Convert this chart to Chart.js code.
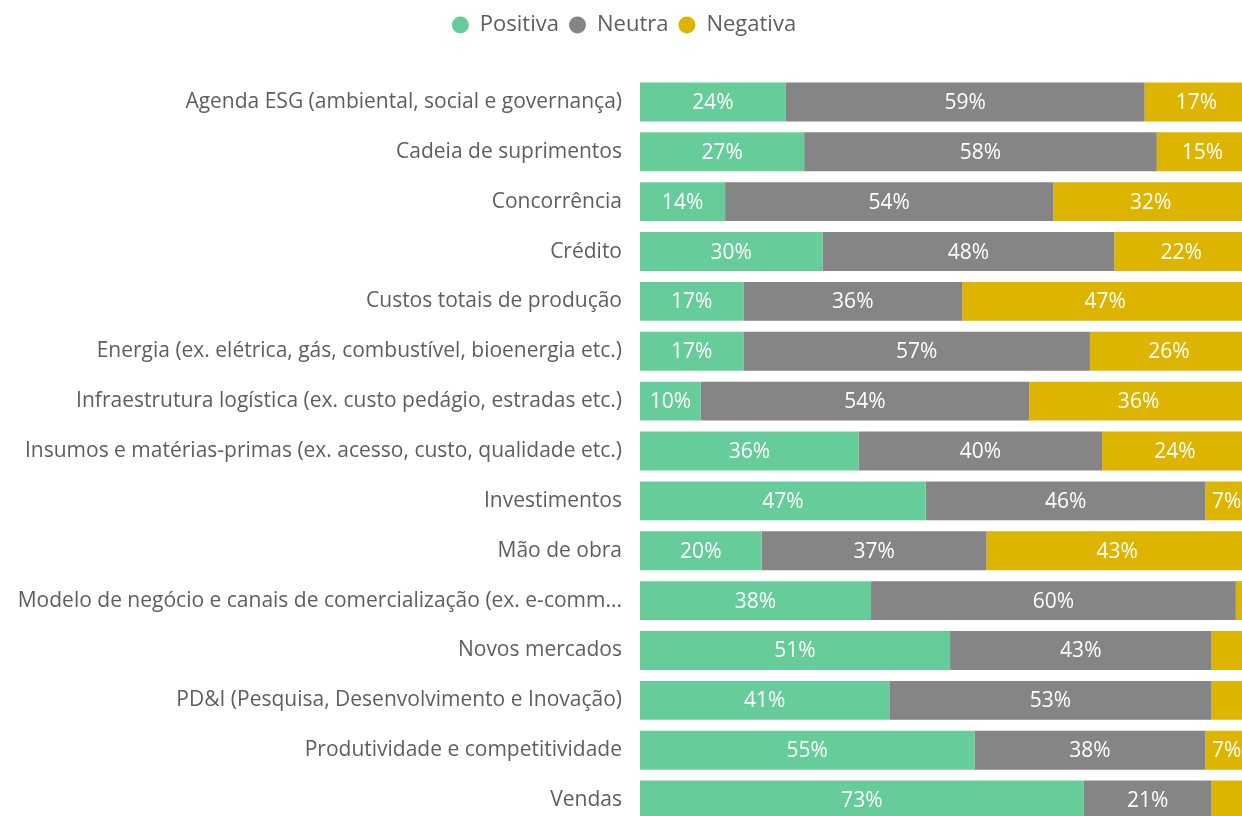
<!DOCTYPE html>
<html>
<head>
<meta charset="utf-8">
<script src="https://cdn.jsdelivr.net/npm/chart.js@4.4.1/dist/chart.umd.min.js"></script>
<style>
  html, body { margin: 0; padding: 0; background: #fff; overflow: hidden; }
  #chart { display: block; }
</style>
</head>
<body>
<canvas id="chart" width="1248" height="826"></canvas>
<script>
// categories and series (percent)
const categories = [
  'Agenda ESG (ambiental, social e governança)',
  'Cadeia de suprimentos',
  'Concorrência',
  'Crédito',
  'Custos totais de produção',
  'Energia (ex. elétrica, gás, combustível, bioenergia etc.)',
  'Infraestrutura logística (ex. custo pedágio, estradas etc.)',
  'Insumos e matérias-primas (ex. acesso, custo, qualidade etc.)',
  'Investimentos',
  'Mão de obra',
  'Modelo de negócio e canais de comercialização (ex. e-comm...',
  'Novos mercados',
  'PD&I (Pesquisa, Desenvolvimento e Inovação)',
  'Produtividade e competitividade',
  'Vendas'
];
const positiva = [24, 27, 14, 30, 17, 17, 10, 36, 47, 20, 38, 51, 41, 55, 73];
const neutra   = [59, 58, 54, 48, 36, 57, 54, 40, 46, 37, 60, 43, 53, 38, 21];
const negativa = [17, 15, 32, 22, 47, 26, 36, 24,  7, 43,  2,  6,  6,  7,  6];

const FONT = '"Open Sans", "Noto Sans", sans-serif';

// white percentage labels in the middle of each segment
const segmentLabels = {
  id: 'segmentLabels',
  afterDatasetsDraw(chart) {
    const ctx = chart.ctx;
    ctx.save();
    ctx.font = '21px ' + FONT;
    ctx.fillStyle = '#ffffff';
    ctx.textAlign = 'center';
    ctx.textBaseline = 'middle';
    chart.data.datasets.forEach((ds, i) => {
      const meta = chart.getDatasetMeta(i);
      meta.data.forEach((bar, j) => {
        const v = ds.data[j];
        if (v < 7) return;
        const p = bar.getCenterPoint();
        ctx.fillText(v + '%', p.x, p.y + 1);
      });
    });
    ctx.restore();
  }
};

new Chart(document.getElementById('chart'), {
  type: 'bar',
  data: {
    labels: categories,
    datasets: [
      { label: 'Positiva', data: positiva, backgroundColor: '#66CC99' },
      { label: 'Neutra', data: neutra, backgroundColor: '#858585' },
      { label: 'Negativa', data: negativa, backgroundColor: '#DDB400' }
    ]
  },
  options: {
    indexAxis: 'y',
    responsive: false,
    animation: false,
    barPercentage: 0.78,
    categoryPercentage: 1,
    layout: { padding: { top: 4, bottom: 1, left: 0, right: 0 } },
    scales: {
      x: { stacked: true, min: 0, max: 100, display: false },
      y: {
        stacked: true,
        grid: { display: false },
        border: { display: false },
        ticks: { color: '#605E5C', font: { family: FONT, size: 21 }, padding: 10 },
        afterFit(scale) {
          scale.width = 640;
          scale.paddingTop = 0;
          scale.paddingBottom = 0;
        }
      }
    },
    plugins: {
      tooltip: { enabled: false },
      legend: {
        position: 'top',
        labels: {
          usePointStyle: true,
          pointStyle: 'circle',
          pointStyleWidth: 17,
          boxHeight: 12,
          padding: 10,
          color: '#605E5C',
          font: { family: FONT, size: 22 }
        }
      },
      // empty spacer between legend and bars
      subtitle: {
        display: true,
        text: '',
        weight: 500,
        font: { size: 10 },
        padding: { top: 0, bottom: 19 }
      }
    }
  },
  plugins: [segmentLabels]
});
</script>
</body>
</html>
